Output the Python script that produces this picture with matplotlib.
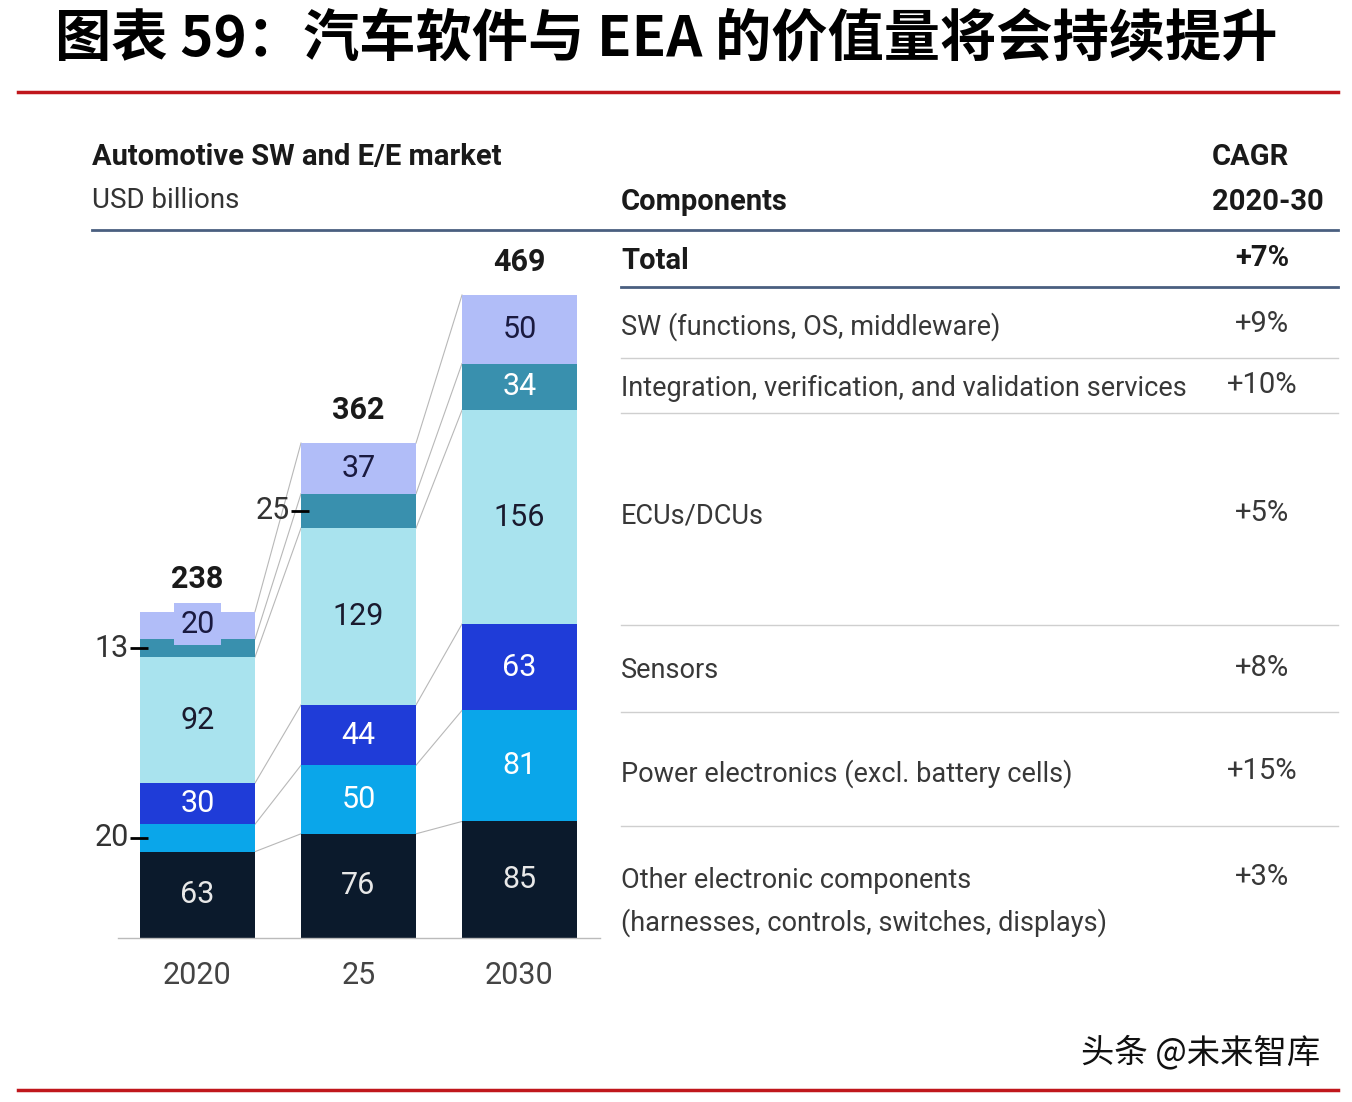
import numpy as np
import matplotlib
matplotlib.use('Agg')
import matplotlib.pyplot as plt

years = ['2020', '25', '2030']
totals = ['238', '362', '469']
segments = ['Other', 'Power', 'Sensors', 'ECUs', 'Integration', 'SW']
other = [63, 76, 85]
power = [20, 50, 81]
sensors = [30, 44, 63]
ecus = [92, 129, 156]
integration = [13, 25, 34]
sw = [20, 37, 50]

colors = ['#0b1a2c', '#0aa6ea', '#1f3cd8', '#a9e3ee', '#3990ae', '#b1bdf8']
text_colors = ['#e8e8e8', 'white', 'white', '#1a1a2e', 'white', '#1a1a40']

components = ['Total',
              'SW (functions, OS, middleware)',
              'Integration, verification, and validation services',
              'ECUs/DCUs',
              'Sensors',
              'Power electronics (excl. battery cells)',
              'Other electronic components\n(harnesses, controls, switches, displays)']
cagr = ['+7%', '+9%', '+10%', '+5%', '+8%', '+15%', '+3%']

W, H = 1352, 1102
fig = plt.figure(figsize=(W / 100, H / 100), dpi=100)
fig.patch.set_facecolor('white')

def fx(px):
    return px / W

def fy(py):
    return 1 - py / H

lat = ['Roboto', 'DejaVu Sans']
cjk = ['Noto Sans CJK SC', 'DejaVu Sans']
fs = 19.5
fsb = 21

# title and red rules
fig.text(fx(55), fy(40), '图表 59：汽车软件与 EEA 的价值量将会持续提升', family=cjk,
         fontsize=40.5, fontweight='bold', va='center', ha='left')
fig.add_artist(plt.Line2D([fx(18), fx(1338)], [fy(92), fy(92)], color='#c0171c', lw=2.5))
fig.add_artist(plt.Line2D([fx(18), fx(1338)], [fy(1090), fy(1090)], color='#c0171c', lw=2.5))
fig.text(fx(1320), fy(1053), '头条 @未来智库', family=cjk, fontsize=24, ha='right', va='center',
         color='#111111')

# header
fig.text(fx(92), fy(157), 'Automotive SW and E/E market', family=lat, fontsize=fsb,
         fontweight='bold', va='center', color='#1a1a1a')
fig.text(fx(92), fy(201), 'USD billions', family=lat, fontsize=20, va='center', color='#333333')
fig.text(fx(621), fy(202), 'Components', family=lat, fontsize=fsb, fontweight='bold',
         va='center', color='#1a1a1a')
fig.text(fx(1212), fy(157), 'CAGR', family=lat, fontsize=fsb, fontweight='bold', va='center', color='#1a1a1a')
fig.text(fx(1212), fy(202), '2020-30', family=lat, fontsize=fsb, fontweight='bold', va='center', color='#1a1a1a')
fig.add_artist(plt.Line2D([fx(92), fx(1338)], [fy(230), fy(230)], color='#4a5f80', lw=2))

# table rows
row_y = [261, 327, 388, 516, 671, 774, 880]
rule_y = [287, 358, 413, 625, 712, 826]
for i, (c, g) in enumerate(zip(components, cagr)):
    wt = 'bold' if i == 0 else 'normal'
    col = '#1a1a1a' if i == 0 else '#383838'
    fsz = fsb if i == 0 else fs
    if '\n' in c:
        top, bottom = c.split('\n')
        fig.text(fx(621), fy(row_y[i]), top, family=lat, fontsize=fs, va='center', color=col)
        fig.text(fx(621), fy(row_y[i] + 43), bottom, family=lat, fontsize=fs, va='center', color=col)
    else:
        fig.text(fx(621), fy(row_y[i]), c, family=lat, fontsize=fsz, fontweight=wt,
                 va='center', color=col)
    fig.text(fx(1262), fy(row_y[i] - 3), g, family=lat, fontsize=21, fontweight=wt,
             va='center', ha='center', color=col)
for j, ry in enumerate(rule_y):
    if j == 0:
        fig.add_artist(plt.Line2D([fx(621), fx(1338)], [fy(ry), fy(ry)], color='#4a5f80', lw=2))
    else:
        fig.add_artist(plt.Line2D([fx(621), fx(1338)], [fy(ry), fy(ry)], color='#cfcfcf', lw=1))

# bar chart
scale = 1.371  # px per unit
spacing = 161
ax = fig.add_axes([fx(90), fy(938), fx(600) - fx(90), (938 - 240) / H])
ax.set_xlim(-(197.5 - 90) / spacing, (600 - 197.5) / spacing)
ax.set_ylim(0, 698 / scale)
ax.axis('off')

data = np.array([other, power, sensors, ecus, integration, sw], dtype=float)
x = np.arange(3)
w = 115 / spacing
bottoms = np.vstack([np.zeros(3), np.cumsum(data, axis=0)[:-1]])
tops = np.cumsum(data, axis=0)

# connector lines between bars
for i in range(2):
    for k in range(6):
        ax.plot([x[i] + w / 2, x[i + 1] - w / 2], [tops[k, i], tops[k, i + 1]],
                color='#b8b8b8', lw=0.8, zorder=1)

for k in range(6):
    ax.bar(x, data[k], w, bottom=bottoms[k], color=colors[k], zorder=2, linewidth=0)

ax.plot([-(197.5 - 118) / spacing, 2.5], [0, 0], color='#bbbbbb', lw=1, zorder=3, clip_on=False)

side = {(1, 0): True, (4, 0): True, (4, 1): True}
for k in range(6):
    for i in range(3):
        v = int(data[k, i])
        mid = bottoms[k, i] + data[k, i] / 2
        if (k, i) in side:
            xl = x[i] - w / 2
            ax.plot([xl - 0.06, xl + 0.05], [mid, mid], color='black', lw=2, zorder=4,
                    solid_capstyle='butt')
            ax.text(xl - 0.07, mid, str(v), ha='right', va='center', family=lat,
                    fontsize=22, color='#333333')
        elif k == 5 and i == 0:
            ax.text(x[i], mid + 1, str(v), ha='center', va='center', family=lat,
                    fontsize=22, color=text_colors[k], zorder=5,
                    bbox=dict(boxstyle='square,pad=0.2', fc=colors[k], ec='none'))
        else:
            ax.text(x[i], mid, str(v), ha='center', va='center', family=lat,
                    fontsize=22, color=text_colors[k], zorder=5)

for i in range(3):
    ax.text(x[i], tops[-1, i] + 13, totals[i], ha='center', va='bottom', family=lat,
            fontsize=22, fontweight='bold', color='#1a1a1a')
    ax.text(x[i], -27, years[i], ha='center', va='center', family=lat,
            fontsize=22, color='#444444')

fig.savefig('out.png', dpi=100)
